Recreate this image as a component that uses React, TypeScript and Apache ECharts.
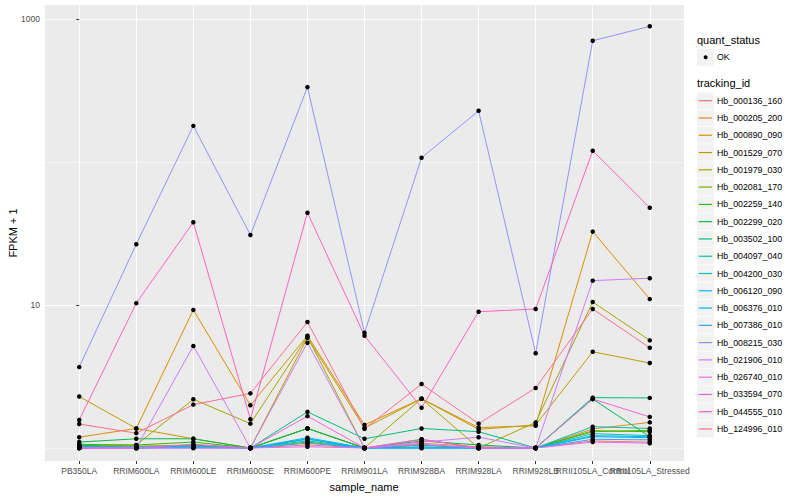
import React, { useEffect, useRef } from 'react';
import * as echarts from 'echarts';

const sampleNames = ['PB350LA', 'RRIM600LA', 'RRIM600LE', 'RRIM600SE', 'RRIM600PE', 'RRIM901LA', 'RRIM928BA', 'RRIM928LA', 'RRIM928LB', 'RRII105LA_Control', 'RRII105LA_Stressed'];

const trackingIds = ['Hb_000136_160', 'Hb_000205_200', 'Hb_000890_090', 'Hb_001529_070', 'Hb_001979_030', 'Hb_002081_170', 'Hb_002259_140', 'Hb_002299_020', 'Hb_003502_100', 'Hb_004097_040', 'Hb_004200_030', 'Hb_006120_090', 'Hb_006376_010', 'Hb_007386_010', 'Hb_008215_030', 'Hb_021906_010', 'Hb_026740_010', 'Hb_033594_070', 'Hb_044555_010', 'Hb_124996_010'];

const trackingColors = ['#F8766D', '#EA8331', '#D89000', '#C09B00', '#A3A500', '#7CAE00', '#39B600', '#00BB4E', '#00BF7D', '#00C1A3', '#00BFC4', '#00BAE0', '#00B0F6', '#35A2FF', '#9590FF', '#C77CFF', '#E76BF3', '#FA62DB', '#FF62BC', '#FF6C91'];

// FPKM + 1 per sample, in sampleNames order
const hb000136 = [1.0, 1.0, 1.02, 1.0, 1.05, 1.0, 1.08, 1.02, 1.0, 1.12, 1.1];
const hb000205 = [1.0, 1.0, 1.02, 1.0, 1.37, 1.0, 1.05, 1.0, 1.0, 1.36, 1.51];
const hb000890 = [1.19, 1.37, 9.24, 1.99, 6.1, 1.45, 2.21, 1.39, 1.43, 32.6, 11.0];
const hb001529 = [2.29, 1.37, 1.16, 1.0, 5.9, 1.38, 2.21, 1.35, 1.45, 4.71, 3.93];
const hb001979 = [1.02, 1.05, 2.19, 1.48, 6.0, 1.0, 2.21, 1.0, 1.51, 10.5, 5.66];
const hb002081 = [1.04, 1.03, 1.05, 1.0, 1.1, 1.0, 1.15, 1.0, 1.0, 1.3, 1.33];
const hb002259 = [1.06, 1.05, 1.1, 1.0, 1.37, 1.0, 1.05, 1.0, 1.0, 1.32, 1.3];
const hb002299 = [1.1, 1.16, 1.16, 1.0, 1.37, 1.0, 1.12, 1.05, 1.0, 2.2, 1.2];
const hb003502 = [1.05, 1.0, 1.05, 1.0, 1.79, 1.16, 1.37, 1.3, 1.0, 2.25, 2.24];
const hb004097 = [1.03, 1.0, 1.03, 1.0, 1.12, 1.0, 1.05, 1.0, 1.0, 1.41, 1.37];
const hb004200 = [1.02, 1.0, 1.02, 1.0, 1.16, 1.0, 1.02, 1.0, 1.0, 1.26, 1.22];
const hb006120 = [1.01, 1.02, 1.02, 1.0, 1.18, 1.0, 1.0, 1.0, 1.0, 1.22, 1.2];
const hb006376 = [1.01, 1.01, 1.01, 1.0, 1.15, 1.0, 1.0, 1.0, 1.0, 1.2, 1.18];
const hb007386 = [1.0, 1.0, 1.0, 1.0, 1.08, 1.0, 1.0, 1.0, 1.0, 1.15, 1.14];
const hb008215 = [3.68, 26.6, 179, 30.9, 334, 6.4, 107, 228, 4.6, 705, 889];
const hb021906 = [1.0, 1.0, 5.17, 1.0, 5.45, 1.0, 1.1, 1.19, 1.0, 14.8, 15.4];
const hb026740 = [1.0, 1.0, 1.0, 1.0, 1.02, 1.0, 1.06, 1.0, 1.0, 1.1, 1.08];
const hb033594 = [1.0, 1.0, 1.06, 1.0, 1.67, 1.0, 1.15, 1.0, 1.0, 2.2, 1.65];
const hb044555 = [1.57, 10.3, 37.9, 1.59, 44.2, 6.1, 1.91, 8.98, 9.38, 120, 47.9];
const hb124996 = [1.47, 1.27, 2.01, 2.41, 7.6, 1.36, 2.8, 1.48, 2.63, 9.38, 5.02];

const seriesValues = [hb000136, hb000205, hb000890, hb001529, hb001979, hb002081, hb002259, hb002299, hb003502, hb004097, hb004200, hb006120, hb006376, hb007386, hb008215, hb021906, hb026740, hb033594, hb044555, hb124996];

const yMajorTicks = [10, 1000];
const yMinorTicks = [1, 100];
const quantStatus = ['OK'];

const FONT = "'Liberation Sans', Arial, Helvetica, sans-serif";

export default function App() {
  const ref = useRef<HTMLDivElement>(null);

  useEffect(() => {
    document.body.style.margin = '0';
    if (!ref.current) return;
    const chart = echarts.init(ref.current, null, { renderer: 'svg' });

    const xIdx = sampleNames.map((_, i) => i);
    // labels that would collide are split over two overlaid axes
    const xIdxEven = xIdx.filter((i) => i !== 9);
    const xIdxOdd = [9];

    const lineSeries = trackingIds.map((id, k) => ({
      name: id,
      type: 'line',
      xAxisIndex: 0,
      yAxisIndex: 0,
      data: seriesValues[k].map((v, i) => [i, v]),
      showSymbol: false,
      symbol: 'none',
      lineStyle: { color: trackingColors[k], width: 1, opacity: 1 },
      itemStyle: { color: trackingColors[k] },
      z: 2,
      silent: true,
    }));

    const allPoints: number[][] = [];
    seriesValues.forEach((vals) => vals.forEach((v, i) => allPoints.push([i, v])));

    const legendX = 697;
    const keySize = 17.28;
    const firstKeyCenter = 100.7;
    const graphics: any[] = [];
    graphics.push({ type: 'text', left: legendX, top: 34, style: { text: 'quant_status', font: `11px ${FONT}`, fill: '#000' } });
    quantStatus.forEach((q, i) => {
      const cy = 57.3 + i * keySize;
      graphics.push({ type: 'rect', shape: { x: legendX, y: cy - keySize / 2 + 0.3, width: keySize - 0.6, height: keySize - 0.6 }, style: { fill: '#F2F2F2' } });
      graphics.push({ type: 'circle', shape: { cx: legendX + keySize / 2, cy, r: 2 }, style: { fill: '#000' } });
      graphics.push({ type: 'text', x: legendX + 20, y: cy, style: { text: q, font: `8.8px ${FONT}`, fill: '#000', verticalAlign: 'middle' } });
    });
    graphics.push({ type: 'text', left: legendX, top: 77, style: { text: 'tracking_id', font: `11px ${FONT}`, fill: '#000' } });
    trackingIds.forEach((id, i) => {
      const cy = firstKeyCenter + i * keySize;
      graphics.push({ type: 'rect', shape: { x: legendX, y: cy - keySize / 2 + 0.3, width: keySize - 0.6, height: keySize - 0.6 }, style: { fill: '#F2F2F2' } });
      graphics.push({ type: 'line', shape: { x1: legendX + 1.7, y1: cy, x2: legendX + keySize - 2.3, y2: cy }, style: { stroke: trackingColors[i], lineWidth: 1.2 } });
      graphics.push({ type: 'text', x: legendX + 20, y: cy, style: { text: id, font: `8.8px ${FONT}`, fill: '#000', verticalAlign: 'middle' } });
    });
    graphics.push({ type: 'text', x: 364, y: 487, style: { text: 'sample_name', font: `11px ${FONT}`, fill: '#000', align: 'center', verticalAlign: 'middle' } });
    graphics.push({ type: 'text', x: 13, y: 233, rotation: Math.PI / 2, style: { text: 'FPKM + 1', font: `11px ${FONT}`, fill: '#000', align: 'center', verticalAlign: 'middle' } });

    const xLabelBase = {
      show: true,
      color: '#4D4D4D',
      fontSize: 8.5,
      margin: 5,
      fontFamily: FONT,
      hideOverlap: false,
      showMinLabel: true,
      showMaxLabel: true,
      formatter: (v: number) => sampleNames[Math.round(v)] ?? '',
    };

    const option: any = {
      animation: false,
      textStyle: { fontFamily: FONT },
      grid: { left: 45, right: 116, top: 5, bottom: 39, show: true, backgroundColor: '#EBEBEB', borderWidth: 0, containLabel: false },
      xAxis: [
        {
          type: 'value',
          min: -0.6,
          max: 10.6,
          position: 'bottom',
          axisLine: { show: false },
          axisTick: { show: true, length: 3, lineStyle: { color: '#333333', width: 1 }, customValues: xIdx },
          axisLabel: { ...xLabelBase, customValues: xIdxEven },
          splitLine: { show: true, lineStyle: { color: '#FFFFFF', width: 1.1 } },
        },
        {
          type: 'value',
          min: -0.6,
          max: 10.6,
          position: 'bottom',
          offset: 0,
          axisLine: { show: false },
          axisTick: { show: false, customValues: xIdxOdd },
          axisLabel: { ...xLabelBase, customValues: xIdxOdd },
          splitLine: { show: false },
        },
      ],
      yAxis: [
        {
          type: 'log',
          min: 0.811,
          max: 1253,
          axisLine: { show: false },
          axisTick: { show: true, length: 3, lineStyle: { color: '#333333', width: 1 }, customValues: yMajorTicks },
          axisLabel: { show: true, customValues: yMajorTicks, color: '#4D4D4D', fontSize: 8.5, margin: 5, fontFamily: FONT, showMinLabel: true, showMaxLabel: true, formatter: (v: number) => String(Math.round(v)) },
          splitLine: { show: true, lineStyle: { color: '#FFFFFF', width: 1.1 } },
        },
        {
          type: 'log',
          min: 0.811,
          max: 1253,
          position: 'left',
          axisLine: { show: false },
          axisTick: { show: false, customValues: yMinorTicks },
          axisLabel: { show: false, customValues: yMinorTicks },
          splitLine: { show: true, lineStyle: { color: '#FFFFFF', width: 0.55 } },
        },
      ],
      series: [
        ...lineSeries,
        {
          name: 'OK',
          type: 'scatter',
          xAxisIndex: 0,
          yAxisIndex: 0,
          data: allPoints,
          symbol: 'circle',
          symbolSize: 4.5,
          itemStyle: { color: '#000000', opacity: 1 },
          z: 5,
          silent: true,
        },
      ],
      graphic: graphics,
    };

    chart.setOption(option);
    return () => chart.dispose();
  }, []);

  return <div ref={ref} style={{ width: 800, height: 500 }} />;
}
